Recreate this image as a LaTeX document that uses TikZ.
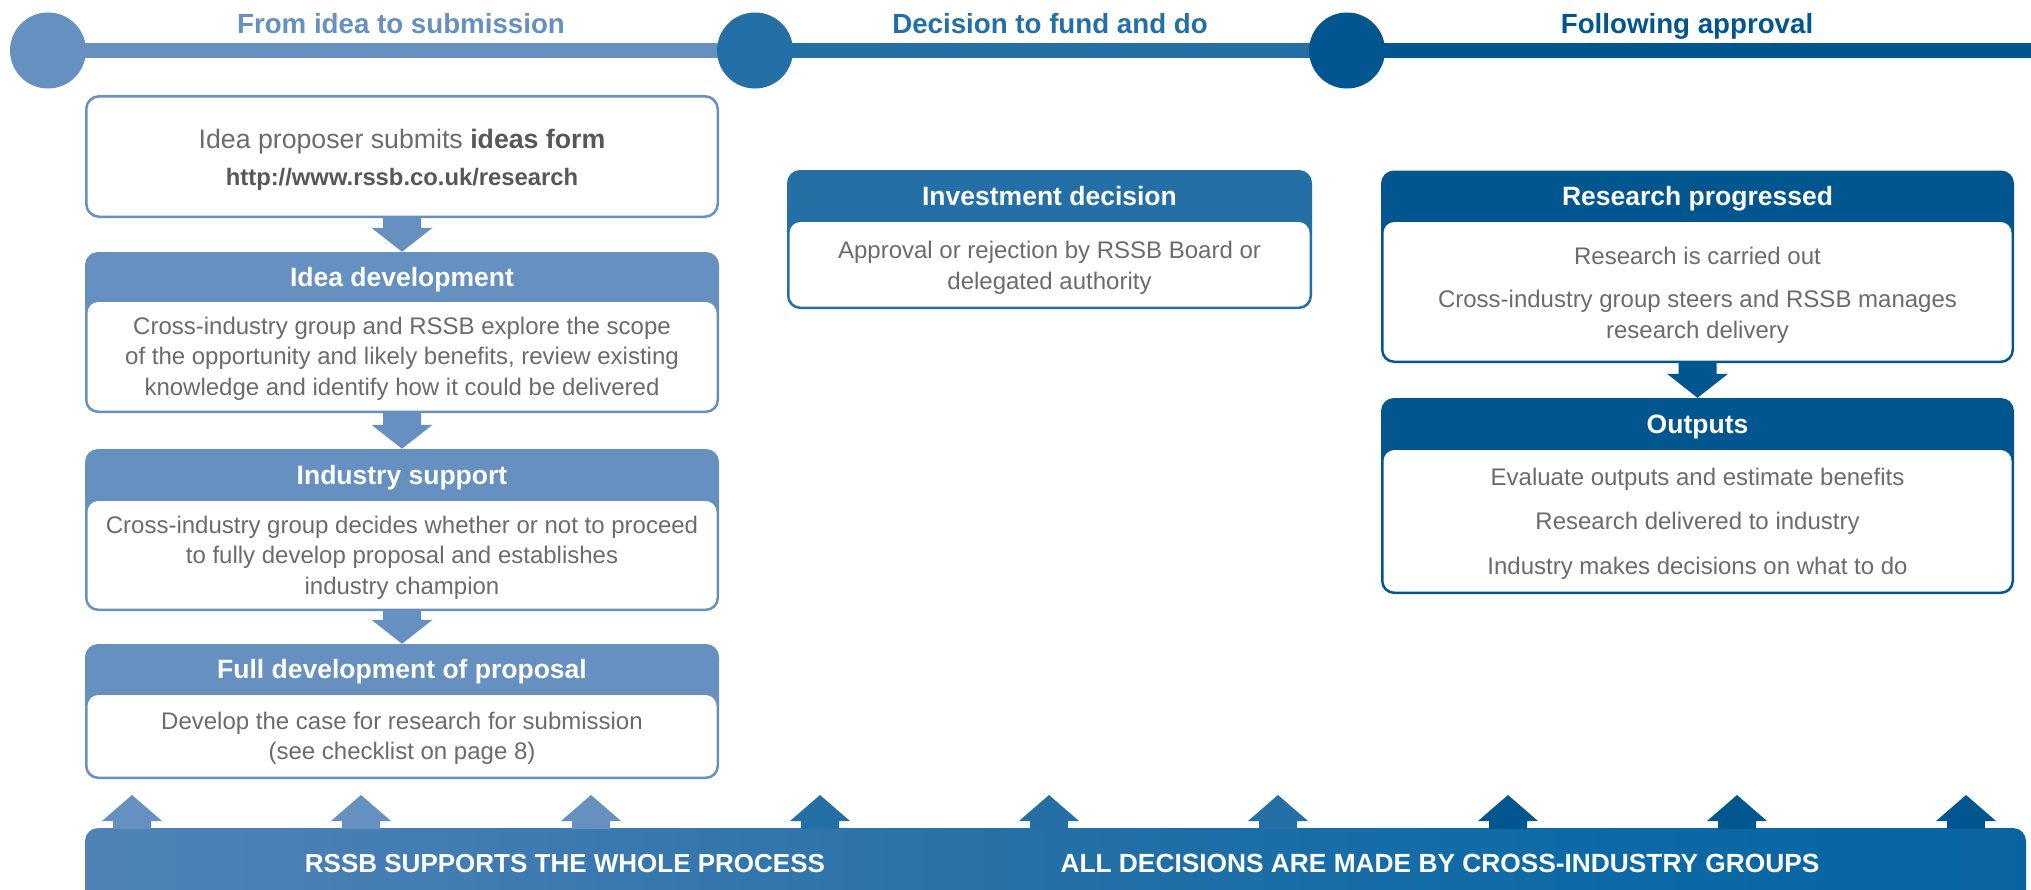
\documentclass[tikz,border=0pt]{standalone}
\usepackage{fontspec}
\setmainfont{Liberation Sans}
\usetikzlibrary{calc}
\definecolor{lightb}{HTML}{6690C0}
\definecolor{midb}{HTML}{2470A6}
\definecolor{darkb}{HTML}{02568F}
\definecolor{brightb}{HTML}{0B69A6}
\definecolor{mixb}{HTML}{4A80B6}
\definecolor{txtgray}{HTML}{6B6B6B}
\definecolor{txtdark}{HTML}{575757}
\pgfdeclarehorizontalshading{bannershade}{100bp}{color(0bp)=(lightb); color(30bp)=(mixb); color(50bp)=(midb); color(65bp)=(brightb); color(100bp)=(darkb)}
\newcommand\dnarr[3]{\fill[#3] let \p1=(#1.south), \p2=(#2.north) in
  (\x1-19pt,\y1+2pt) -- (\x1-19pt,\y2+24pt) -- (\x1-30.5pt,\y2+24pt) -- (\x1,\y2)
  -- (\x1+30.5pt,\y2+24pt) -- (\x1+19pt,\y2+24pt) -- (\x1+19pt,\y1+2pt) -- cycle;}
\newcommand\uparr[3]{\fill[#3] let \p1=(#1), \p2=(#2) in
  (\x1-19pt,\y1-1pt) -- (\x1-19pt,\y2-26pt) -- (\x1-30pt,\y2-26pt) -- (\x1,\y2)
  -- (\x1+30pt,\y2-26pt) -- (\x1+19pt,\y2-26pt) -- (\x1+19pt,\y1-1pt) -- cycle;}
\begin{document}
\begin{tikzpicture}[x=1pt,y=-1pt,
  title/.style={font=\fontsize{27.7}{33}\selectfont\bfseries, anchor=base, inner sep=0pt},
  hdr/.style={font=\fontsize{26.5}{32}\selectfont\bfseries, text=white, anchor=base, inner sep=0pt},
  bodytxt/.style={font=\fontsize{24}{30.5}\selectfont, text=txtgray, align=center},
  outerbox/.style={rounded corners=13pt, inner sep=0pt, draw=none},
  innerbox/.style={rounded corners=11pt, fill=white, inner sep=0pt},
  dot/.style={circle, minimum size=76pt, inner sep=0pt},
  bar/.style={line width=15pt},
  bantxt/.style={font=\fontsize{26}{31}\selectfont\bfseries, text=white, anchor=base, inner sep=0pt}]
\useasboundingbox (0,0) rectangle (2031,889);
\fill[white] (0,0) rectangle (2031,889);

% timeline
\coordinate (p1) at (48,50.5);
\coordinate (p2) at (755,50.5);
\coordinate (p3) at (1347,50.5);
\coordinate (pend) at (2031,50.5);
\draw[bar, lightb] (p1) -- (p2);
\draw[bar, midb] (p2) -- (p3);
\draw[bar, darkb] (p3) -- (pend);
\node[dot, fill=lightb] (c1) at (p1) {};
\node[dot, fill=midb] (c2) at (p2) {};
\node[dot, fill=darkb] (c3) at (p3) {};
\node[title, text=lightb] (t1) at (401,33) {From idea to submission};
\node[title, text=midb] (t2) at (1050,33) {Decision to fund and do};
\node[title, text=darkb] (t3) at (1687,33) {Following approval};

% left column
\node[outerbox, draw=lightb, line width=2.5pt, fill=white, minimum width=631.5pt, minimum height=120.5pt] (b1) at (402,156.5) {};
\node[inner sep=0pt, anchor=base, font=\fontsize{26.7}{32}\selectfont, text=txtgray] (b1a) at (402,148) {Idea proposer submits {\color{txtdark}\bfseries ideas form}};
\node[inner sep=0pt, anchor=base, font=\fontsize{23.8}{28}\selectfont\bfseries, text=txtdark] (b1b) at (402,185) {http://www.rssb.co.uk/research};

\node[outerbox, fill=lightb, minimum width=634pt, minimum height=161pt] (b2) at (402,332.5) {};
\node[innerbox, minimum width=629pt, minimum height=108.5pt] (b2in) at (402,356.25) {};
\node[hdr] (b2h) at (402,286) {Idea development};
\node[bodytxt] (b2t) at (402,358.5) {Cross-industry group and RSSB explore the scope\\of the opportunity and likely benefits, review existing\\knowledge and identify how it could be delivered};

\node[outerbox, fill=lightb, minimum width=634pt, minimum height=162pt] (b3) at (402,530) {};
\node[innerbox, minimum width=629pt, minimum height=107.5pt] (b3in) at (402,554.75) {};
\node[hdr] (b3h) at (402,484) {Industry support};
\node[bodytxt] (b3t) at (402,557.5) {Cross-industry group decides whether or not to proceed\\to fully develop proposal and establishes\\industry champion};

\node[outerbox, fill=lightb, minimum width=634pt, minimum height=135pt] (b4) at (402,711.5) {};
\node[innerbox, minimum width=629pt, minimum height=81.5pt] (b4in) at (402,735.75) {};
\node[hdr] (b4h) at (402,678.5) {Full development of proposal};
\node[bodytxt] (b4t) at (402,738.5) {Develop the case for research for submission\\(see checklist on page 8)};

\dnarr{b1}{b2}{lightb}
\dnarr{b2}{b3}{lightb}
\dnarr{b3}{b4}{lightb}

% middle column
\node[outerbox, fill=midb, minimum width=525pt, minimum height=139pt] (m1) at (1049.5,239.5) {};
\node[innerbox, minimum width=520pt, minimum height=84.5pt] (m1in) at (1049.5,264.25) {};
\node[hdr] (m1h) at (1049.5,205) {Investment decision};
\node[bodytxt] (m1t) at (1049.5,268) {Approval or rejection by RSSB Board or\\delegated authority};

% right column
\node[outerbox, fill=darkb, minimum width=633pt, minimum height=192.5pt] (r1) at (1697.5,266.75) {};
\node[innerbox, minimum width=628pt, minimum height=138.5pt] (r1in) at (1697.5,291.25) {};
\node[hdr] (r1h) at (1697.5,205) {Research progressed};
\node[bodytxt] (r1t) at (1697.5,295) {Research is carried out\\[13pt]Cross-industry group steers and RSSB manages\\research delivery};

\node[outerbox, fill=darkb, minimum width=633pt, minimum height=196pt] (r2) at (1697.5,496) {};
\node[innerbox, minimum width=628pt, minimum height=141.5pt] (r2in) at (1697.5,520.75) {};
\node[hdr] (r2h) at (1697.5,433) {Outputs};
\node[bodytxt] (r2t) at (1697.5,523.5) {Evaluate outputs and estimate benefits\\[14pt]Research delivered to industry\\[14pt]Industry makes decisions on what to do};

\dnarr{r1}{r2}{darkb}

% banner
\begin{scope}
\clip (0,0) rectangle (2031,889);
\shade[shading=bannershade, rounded corners=13pt] (85,828) rectangle (2026,910);
\end{scope}
\node[bantxt] (ban1) at (565,872) {RSSB SUPPORTS THE WHOLE PROCESS};
\node[bantxt, font=\fontsize{26.3}{31}\selectfont\bfseries] (ban2) at (1440,872) {ALL DECISIONS ARE MADE BY CROSS-INDUSTRY GROUPS};

% up arrows
\foreach \i/\xx/\cc in {1/132/lightb,2/361/lightb,3/591/lightb,4/820/midb,5/1049/midb,6/1278/midb,7/1508/darkb,8/1737/darkb,9/1966/darkb}{
  \coordinate (ub\i) at (\xx,828);
  \coordinate (ut\i) at (\xx,795);
  \uparr{ub\i}{ut\i}{\cc}
}
\end{tikzpicture}
\end{document}
